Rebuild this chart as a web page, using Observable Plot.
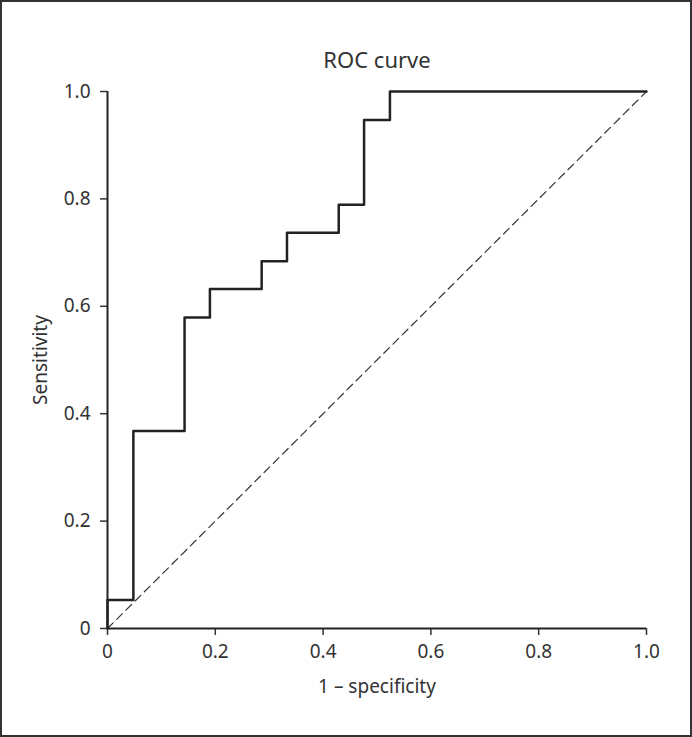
<!DOCTYPE html>
<html>
<head>
<meta charset="utf-8">
<script src="https://cdn.jsdelivr.net/npm/d3@7"></script>
<script src="https://cdn.jsdelivr.net/npm/@observablehq/plot@0.6"></script>
<style>
  body { margin: 0; background: #fff; }
  #chart svg { display: block; outline: 2px solid #333; outline-offset: -2px; }
</style>
</head>
<body>
<div id="chart"></div>
<script>
// ROC curve: 1 - specificity (x) against sensitivity (y)
const fpr = [0, 0, 0.048, 0.143, 0.190, 0.286, 0.333, 0.429, 0.476, 0.524, 1]
const tpr = [0, 0.053, 0.368, 0.579, 0.632, 0.684, 0.737, 0.789, 0.947, 1, 1]
const ticks = [0, 0.2, 0.4, 0.6, 0.8, 1.0]
const chance = [0, 1]

const roc = fpr.map((x, i) => ({x: x, y: tpr[i]}))
const fmt = d => d === 0 ? "0" : d.toFixed(1)

let chart = Plot.plot({
  width: 692,
  height: 737,
  marginLeft: 107,
  marginRight: 46,
  marginTop: 91,
  marginBottom: 109,
  x: {domain: [0, 1]},
  y: {domain: [0, 1]},
  style: {fontFamily: "'Noto Sans', sans-serif", fontSize: "19px", color: "#333"},
  marks: [
    Plot.axisX({ticks: ticks, tickFormat: fmt, tickSize: 7, tickPadding: 9, strokeWidth: 1.5, fontSize: 19,
      label: null}),
    Plot.axisY({ticks: ticks, tickFormat: fmt, tickSize: 7, tickPadding: 10, strokeWidth: 1.5, fontSize: 19,
      label: null}),
    Plot.axisX({ticks: [], label: "1 – specificity", labelAnchor: "center", labelOffset: 64, labelArrow: "none", fontSize: 19}),
    Plot.axisY({ticks: [], label: "Sensitivity", labelAnchor: "center", labelOffset: 74, labelArrow: "none", fontSize: 19}),
    Plot.line(chance, {x: d => d, y: d => d, stroke: "#333", strokeWidth: 1.2, strokeDasharray: "8,5"}),
    Plot.line(roc, {x: "x", y: "y", curve: "step-after", stroke: "#222", strokeWidth: 2.5}),
    Plot.ruleX([0], {stroke: "#222", strokeWidth: 2}),
    Plot.ruleY([0], {stroke: "#222", strokeWidth: 2}),
    Plot.text(["ROC curve"], {frameAnchor: "top", dy: -39, fontSize: 22, fill: "#333"})
  ]
})
d3.select('#chart').append(() => chart)
</script>
</body>
</html>
